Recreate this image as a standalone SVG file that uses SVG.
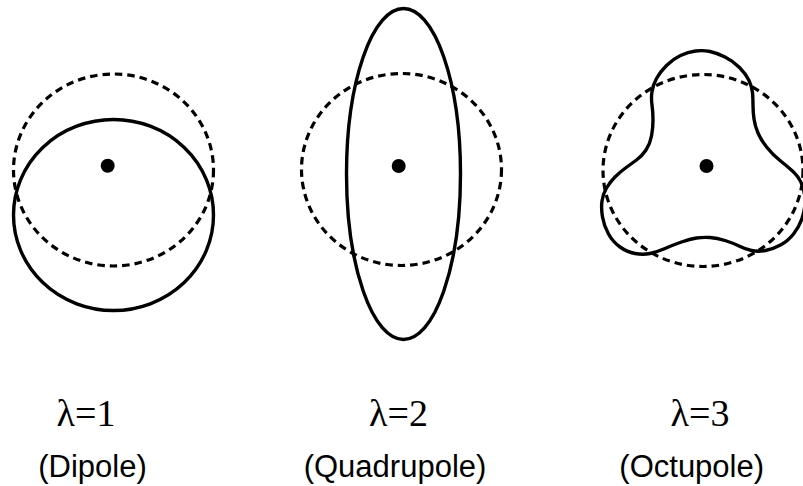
<svg xmlns="http://www.w3.org/2000/svg" width="803" height="486" viewBox="0 0 803 486">
<style>
.ref{fill:none;stroke:#000;stroke-width:3.2;stroke-dasharray:7.5 5}
.shape{fill:none;stroke:#000;stroke-width:3.4;stroke-linejoin:round}
.dot{fill:#000}
.lam{font-family:"Liberation Serif","Times New Roman",serif;font-size:38px;fill:#000;text-anchor:middle}
.name{font-family:"Liberation Sans",Arial,sans-serif;font-size:31px;fill:#000;text-anchor:middle}
</style>
<rect width="803" height="486" fill="#fff"/>
<g id="dipole">
<ellipse class="ref" cx="113.5" cy="170" rx="100" ry="96"/>
<ellipse class="shape" cx="113.5" cy="215" rx="100" ry="95.5"/>
<circle class="dot" cx="107.7" cy="165.7" r="7"/>
<text class="lam" x="86" y="426">λ=1</text>
<text class="name" x="92.5" y="477">(Dipole)</text>
</g>
<g id="quadrupole">
<ellipse class="ref" cx="401.5" cy="169.5" rx="100" ry="96"/>
<ellipse class="shape" cx="403.5" cy="174" rx="57" ry="165.5"/>
<circle class="dot" cx="398.7" cy="166" r="7"/>
<text class="lam" x="398.5" y="426">λ=2</text>
<text class="name" x="395" y="477">(Quadrupole)</text>
</g>
<g id="octupole">
<ellipse class="ref" cx="703" cy="170.5" rx="100" ry="96"/>
<path class="shape" d="M 695.5 51 Q 703 50 710 51.5 Q 717 53 725 57 Q 733 61 739.5 67.5 Q 746 74 749 80.5 Q 752 87 752.5 92.5 Q 753 98 753 105 Q 753 112 754 119 Q 755 126 758 133 Q 761 140 767 147.5 Q 773 155 780 160.5 Q 787 166 793 171.5 Q 799 177 802 184.5 Q 805 192 805 201 Q 805 210 802 218.5 Q 799 227 793.5 234 Q 788 241 780.5 245 Q 773 249 765.5 250.5 Q 758 252 751.5 250.5 Q 745 249 739 246 Q 733 243 725 240.5 Q 717 238 710 237.5 Q 703 237 696.5 238 Q 690 239 681.5 242 Q 673 245 665 248.5 Q 657 252 650 253.5 Q 643 255 635 253.5 Q 627 252 620 247 Q 613 242 608.5 234 Q 604 226 602.5 217 Q 601 208 602 201 Q 603 194 606.5 188 Q 610 182 615 177 Q 620 172 625.5 168 Q 631 164 636.5 160 Q 642 156 646 150 Q 650 144 651.5 136 Q 653 128 653 120 Q 653 112 652 105 Q 651 98 652 91.5 Q 653 85 656.5 78.5 Q 660 72 666.5 65.5 Q 673 59 680.5 55.5 Q 688 52 695.5 51 Z"/>
<circle class="dot" cx="706.5" cy="166" r="7"/>
<text class="lam" x="700" y="426">λ=3</text>
<text class="name" x="691.7" y="477">(Octupole)</text>
</g>
</svg>
